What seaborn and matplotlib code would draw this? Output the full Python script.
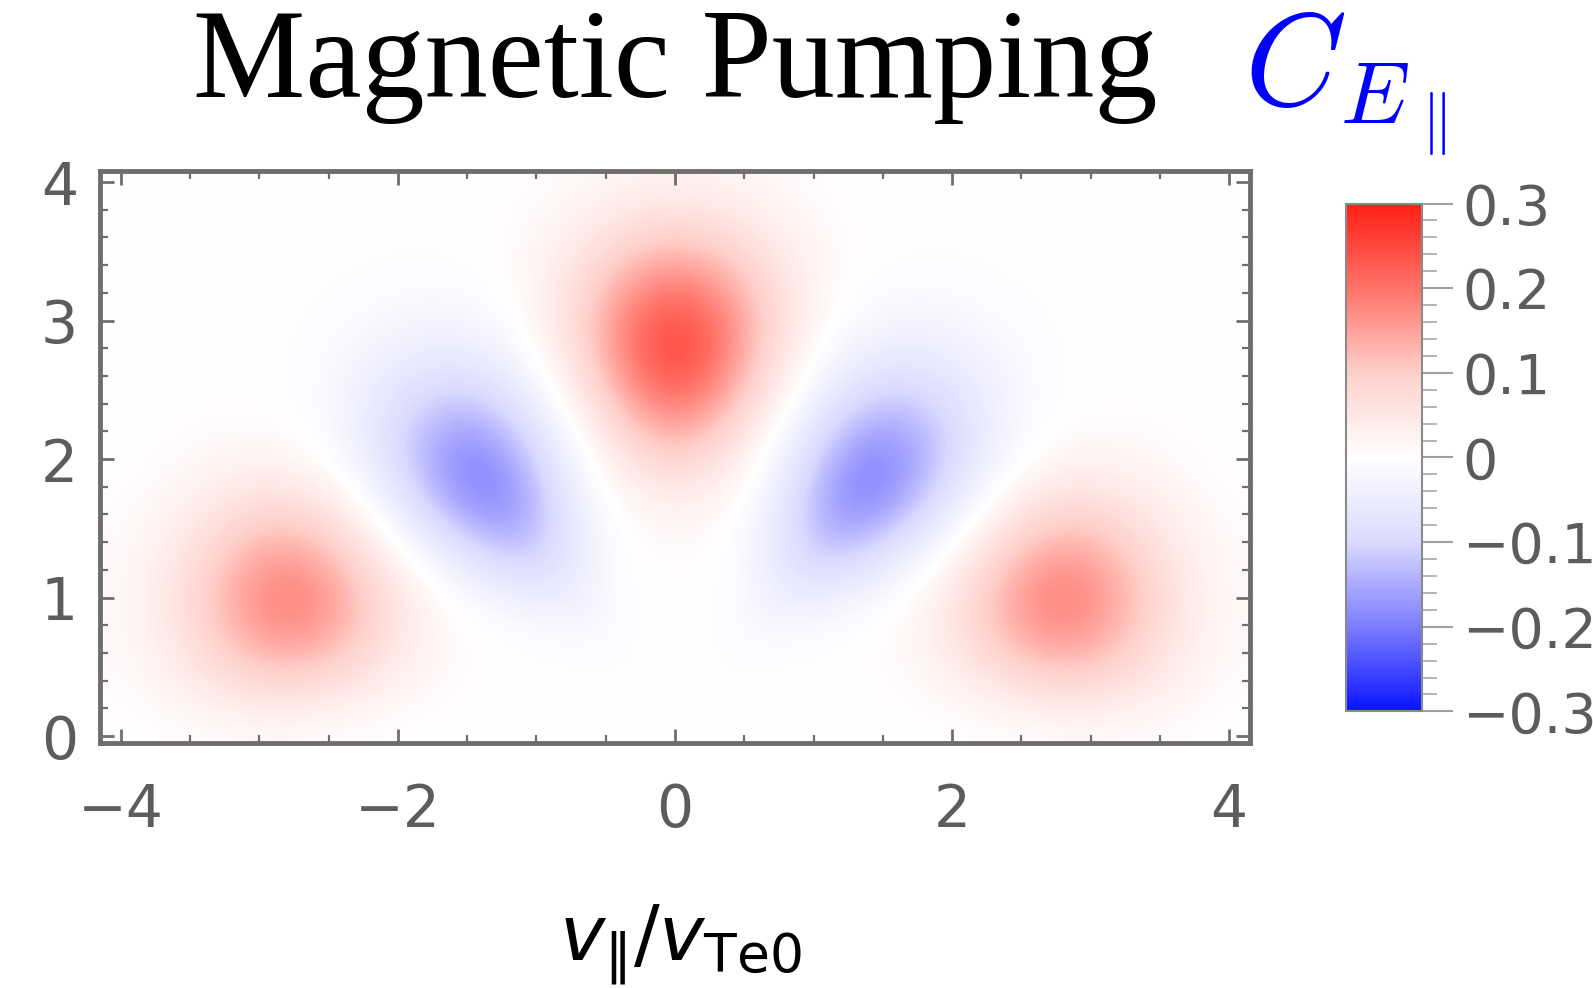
import numpy as np
import matplotlib
matplotlib.use("Agg")
import matplotlib.pyplot as plt
from matplotlib.ticker import MultipleLocator, FuncFormatter
import seaborn as sns

# Velocity-space grid (v_par / v_Te0 across, v_perp / v_Te0 up)
v_par = [-4.0, -3.75, -3.5, -3.25, -3.0, -2.75, -2.5, -2.25, -2.0, -1.75, -1.5,
         -1.25, -1.0, -0.75, -0.5, -0.25, 0.0, 0.25, 0.5, 0.75, 1.0, 1.25, 1.5,
         1.75, 2.0, 2.25, 2.5, 2.75, 3.0, 3.25, 3.5, 3.75, 4.0]
v_perp = [0.0, 0.25, 0.5, 0.75, 1.0, 1.25, 1.5, 1.75, 2.0, 2.25, 2.5, 2.75,
          3.0, 3.25, 3.5, 3.75, 4.0]

# Field-particle correlation C_E_par, one row per v_perp value (bottom to top)
c_epar = [
    # v_perp = 0.00
    [0.001, 0.002, 0.005, 0.007, 0.008, 0.007, 0.005, 0.003, 0.001, 0.001, 0, 0, 0, 0, 0, 0,
     0,
     0, 0, 0, 0, 0, 0, 0.001, 0.001, 0.003, 0.005, 0.007, 0.008, 0.007, 0.005, 0.002, 0.001],
    # v_perp = 0.25
    [0.005, 0.013, 0.025, 0.038, 0.047, 0.048, 0.038, 0.026, 0.014, 0.006, 0.003, 0.001, 0, 0, 0, -0.001,
     0,
     -0.001, 0, 0, 0, 0.001, 0.003, 0.006, 0.014, 0.026, 0.038, 0.048, 0.047, 0.038, 0.025, 0.013, 0.005],
    # v_perp = 0.50
    [0.010, 0.025, 0.050, 0.081, 0.105, 0.110, 0.095, 0.066, 0.037, 0.017, 0.006, 0.001, 0, -0.002, -0.005, -0.002,
     0,
     -0.002, -0.005, -0.002, 0, 0.001, 0.006, 0.017, 0.037, 0.066, 0.095, 0.110, 0.105, 0.081, 0.050, 0.025, 0.010],
    # v_perp = 0.75
    [0.013, 0.034, 0.069, 0.114, 0.152, 0.164, 0.142, 0.099, 0.054, 0.022, 0.005, -0.004, -0.011, -0.019, -0.015, -0.001,
     0,
     -0.001, -0.015, -0.019, -0.011, -0.004, 0.005, 0.022, 0.054, 0.099, 0.142, 0.164, 0.152, 0.114, 0.069, 0.034, 0.013],
    # v_perp = 1.00
    [0.014, 0.036, 0.076, 0.127, 0.171, 0.184, 0.158, 0.105, 0.051, 0.013, -0.012, -0.032, -0.049, -0.046, -0.017, -0.001,
     0.002,
     -0.001, -0.017, -0.046, -0.049, -0.032, -0.012, 0.013, 0.051, 0.105, 0.158, 0.184, 0.171, 0.127, 0.076, 0.036, 0.014],
    # v_perp = 1.25
    [0.012, 0.032, 0.067, 0.112, 0.150, 0.159, 0.130, 0.078, 0.024, -0.021, -0.060, -0.093, -0.100, -0.062, -0.016, 0.002,
     0.006,
     0.002, -0.016, -0.062, -0.100, -0.093, -0.060, -0.021, 0.024, 0.078, 0.130, 0.159, 0.150, 0.112, 0.067, 0.032, 0.012],
    # v_perp = 1.50
    [0.009, 0.023, 0.048, 0.080, 0.105, 0.108, 0.081, 0.034, -0.021, -0.076, -0.130, -0.158, -0.131, -0.063, -0.011, 0.010,
     0.017,
     0.010, -0.011, -0.063, -0.131, -0.158, -0.130, -0.076, -0.021, 0.034, 0.081, 0.108, 0.105, 0.080, 0.048, 0.023, 0.009],
    # v_perp = 1.75
    [0.005, 0.013, 0.028, 0.046, 0.059, 0.056, 0.032, -0.011, -0.066, -0.133, -0.182, -0.186, -0.129, -0.051, 0.001, 0.030,
     0.043,
     0.030, 0.001, -0.051, -0.129, -0.186, -0.182, -0.133, -0.066, -0.011, 0.032, 0.056, 0.059, 0.046, 0.028, 0.013, 0.005],
    # v_perp = 2.00
    [0.002, 0.006, 0.013, 0.021, 0.026, 0.020, -0.002, -0.040, -0.094, -0.153, -0.187, -0.170, -0.103, -0.030, 0.025, 0.069,
     0.089,
     0.069, 0.025, -0.030, -0.103, -0.170, -0.187, -0.153, -0.094, -0.040, -0.002, 0.020, 0.026, 0.021, 0.013, 0.006, 0.002],
    # v_perp = 2.25
    [0.001, 0.003, 0.005, 0.008, 0.008, 0.001, -0.017, -0.049, -0.095, -0.136, -0.152, -0.125, -0.066, -0.001, 0.063, 0.123,
     0.152,
     0.123, 0.063, -0.001, -0.066, -0.125, -0.152, -0.136, -0.095, -0.049, -0.017, 0.001, 0.008, 0.008, 0.005, 0.003, 0.001],
    # v_perp = 2.50
    [0, 0.001, 0.002, 0.002, 0.001, -0.005, -0.018, -0.043, -0.072, -0.097, -0.101, -0.075, -0.028, 0.032, 0.105, 0.180,
     0.214,
     0.180, 0.105, 0.032, -0.028, -0.075, -0.101, -0.097, -0.072, -0.043, -0.018, -0.005, 0.001, 0.002, 0.002, 0.001, 0],
    # v_perp = 2.75
    [0, 0, 0, 0, -0.001, -0.005, -0.014, -0.028, -0.045, -0.057, -0.055, -0.035, 0.002, 0.059, 0.136, 0.214,
     0.248,
     0.214, 0.136, 0.059, 0.002, -0.035, -0.055, -0.057, -0.045, -0.028, -0.014, -0.005, -0.001, 0, 0, 0, 0],
    # v_perp = 3.00
    [0, 0, 0, 0, -0.001, -0.003, -0.008, -0.015, -0.023, -0.028, -0.025, -0.010, 0.020, 0.070, 0.140, 0.209,
     0.238,
     0.209, 0.140, 0.070, 0.020, -0.010, -0.025, -0.028, -0.023, -0.015, -0.008, -0.003, -0.001, 0, 0, 0, 0],
    # v_perp = 3.25
    [0, 0, 0, 0, -0.001, -0.002, -0.004, -0.007, -0.010, -0.012, -0.008, 0.002, 0.025, 0.063, 0.116, 0.167,
     0.188,
     0.167, 0.116, 0.063, 0.025, 0.002, -0.008, -0.012, -0.010, -0.007, -0.004, -0.002, -0.001, 0, 0, 0, 0],
    # v_perp = 3.50
    [0, 0, 0, 0, 0, -0.001, -0.001, -0.002, -0.004, -0.004, -0.001, 0.005, 0.020, 0.045, 0.079, 0.110,
     0.123,
     0.110, 0.079, 0.045, 0.020, 0.005, -0.001, -0.004, -0.004, -0.002, -0.001, -0.001, 0, 0, 0, 0, 0],
    # v_perp = 3.75
    [0, 0, 0, 0, 0, 0, 0, -0.001, -0.001, -0.001, 0, 0.004, 0.012, 0.026, 0.044, 0.060,
     0.066,
     0.060, 0.044, 0.026, 0.012, 0.004, 0, -0.001, -0.001, -0.001, 0, 0, 0, 0, 0, 0, 0],
    # v_perp = 4.00
    [0, 0, 0, 0, 0, 0, 0, 0, 0, 0, 0.001, 0.002, 0.006, 0.012, 0.020, 0.027,
     0.029,
     0.027, 0.020, 0.012, 0.006, 0.002, 0.001, 0, 0, 0, 0, 0, 0, 0, 0, 0, 0],
]

cbar_ticks = [-0.3, -0.2, -0.1, 0.0, 0.1, 0.2, 0.3]
cbar_colors = ["#0a14ff", "#7d7dff", "#dadaff", "#ffffff",
               "#ffd0cb", "#ff7369", "#ff1e14"]

sns.set_theme(style="white")
plt.rcParams["font.family"] = ["DejaVu Sans"]
plt.rcParams["axes.unicode_minus"] = True

fig = plt.figure(figsize=(15.93, 9.88), dpi=100)
fig.patch.set_facecolor("white")

ax = fig.add_axes([0.0628, 0.2480, 0.7219, 0.5789])
cmap = sns.blend_palette(cbar_colors, as_cmap=True)

field = np.array(c_epar, dtype=float)
dx = v_par[1] - v_par[0]
dy = v_perp[1] - v_perp[0]
im = ax.imshow(field, origin="lower", cmap=cmap, vmin=cbar_ticks[0], vmax=cbar_ticks[-1],
               extent=[v_par[0] - dx / 2, v_par[-1] + dx / 2,
                       v_perp[0] - dy / 2, v_perp[-1] + dy / 2],
               interpolation="bicubic", aspect="auto")
ax.set_xlim(-4.15, 4.15)
ax.set_ylim(-0.05, 4.08)

frame_grey = "#6e6e6e"
label_grey = "#5c5c5c"
for sp in ax.spines.values():
    sp.set_visible(True)
    sp.set_color(frame_grey)
    sp.set_linewidth(3.5)

ax.xaxis.set_major_locator(MultipleLocator(2))
ax.xaxis.set_minor_locator(MultipleLocator(0.5))
ax.yaxis.set_major_locator(MultipleLocator(1))
ax.yaxis.set_minor_locator(MultipleLocator(0.2))
ax.tick_params(which="both", direction="in", top=True, right=True,
               bottom=True, left=True, color=frame_grey)
ax.tick_params(which="major", length=10, width=2.0, labelsize=42,
               labelcolor=label_grey)
ax.tick_params(axis="x", which="major", pad=28)
ax.tick_params(axis="y", which="major", pad=16)
ax.tick_params(which="minor", length=5.5, width=1.6)

# Colour bar
cax = fig.add_axes([0.845, 0.280, 0.0477, 0.514])
cb = fig.colorbar(im, cax=cax)
cb.set_ticks(cbar_ticks)
cb.ax.yaxis.set_major_formatter(FuncFormatter(
    lambda v, _: "0" if abs(v) < 1e-9 else f"{v:.1f}".replace("-", "\u2212")))
cb.ax.yaxis.set_minor_locator(MultipleLocator(0.02))
cb.ax.tick_params(which="major", length=22, width=1.5, color="#a0a0a0",
                  labelsize=40, labelcolor=label_grey, pad=7)
cb.ax.tick_params(which="minor", length=11, width=1.2, color="#a8a8a8")
cb.outline.set_edgecolor("#8a8a8a")
cb.outline.set_linewidth(1.5)

# Titles and axis label
fig.text(675 / 1593, 1 - 97 / 988, "Magnetic Pumping", ha="center", va="baseline",
         fontsize=91, family=["Liberation Serif", "DejaVu Serif"], color="black")
fig.text(1244 / 1593, 1 - 105 / 988, r"$C$", ha="left", va="baseline",
         fontsize=94, color="#0000ff", math_fontfamily="cm")
fig.text(1340 / 1593, 1 - 123 / 988, r"$E$", ha="left", va="baseline",
         fontsize=63, color="#0000ff", math_fontfamily="cm")
fig.text(1421 / 1593, 1 - 139 / 988, r"$\Vert$", ha="left", va="baseline",
         fontsize=45, color="#0000ff", math_fontfamily="cm")
fig.text(681 / 1593, 1 - 945 / 988, r"$v_{\|}/v_{\mathrm{Te0}}$", ha="center",
         va="center", fontsize=55, color="black", math_fontfamily="dejavusans")

fig.savefig("out.png", dpi=100, facecolor="white")
